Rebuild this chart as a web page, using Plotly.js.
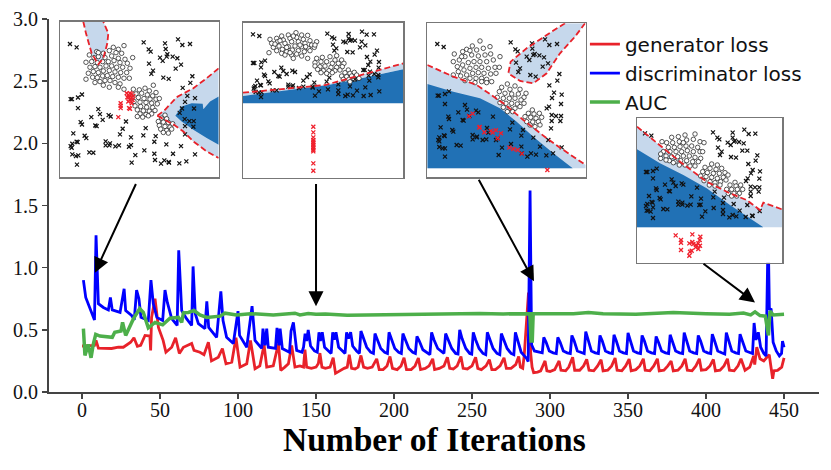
<!DOCTYPE html>
<html>
<head>
<meta charset="utf-8">
<script src="https://cdn.plot.ly/plotly-3.0.1.min.js"></script>
<style>html,body{margin:0;padding:0;background:#fff}</style>
</head>
<body>
<div id="chart" style="width:831px;height:470px"></div>
<script>
// main series, [iteration, value]
var genLoss = [[0,.37],[4,.37],[8,.375],[9,.415],[10.5,.353],[19,.35],[23.3,.36],[26.5,.36],[28.2,.375],[31.2,.4],[33.3,.436],[35.5,.367],[37.6,.375],[40.4,.455],[43.5,.45],[44,.334],[44.6,.6],[46.8,.75],[49,.52],[52,.415],[53.8,.32],[57.5,.36],[60,.436],[62.4,.31],[65,.36],[70.3,.39],[71.8,.335],[75.6,.32],[78.2,.3],[81,.4],[83,.25],[87.4,.28],[90,.35],[92.3,.227],[96,.24],[98.7,.436],[101.3,.2],[105.6,.227],[108,.415],[110.9,.187],[114,.21],[116.7,.38],[118.4,.2],[122.6,.21],[125.9,.39],[127.4,.174],[130,.2],[132.3,.227],[134.4,.375],[136.5,.2],[139.7,.21],[142,.2],[142.9,.34],[144,.2],[147,.19],[150,.2],[151.5,.23],[152.5,.313],[153.8,.2],[156,.19],[159,.2],[161,.275],[162.5,.15],[165,.17],[168,.19],[170,.2],[171.3,.3],[172.8,.19],[175,.185],[177,.2],[178.8,.294],[180.5,.2],[183,.19],[186,.2],[188.9,.267],[190.5,.18],[193,.18],[195.5,.21],[197.4,.286],[199,.19],[202,.18],[204.5,.21],[206.4,.275],[208,.18],[211,.18],[213.5,.21],[215.6,.273],[217,.18],[220,.19],[222.5,.21],[224.8,.267],[226,.18],[229,.19],[232,.21],[234.2,.28],[235.7,.19],[238,.185],[240.5,.21],[242.9,.286],[244.3,.19],[247,.185],[250,.21],[252.3,.28],[253.7,.19],[256,.18],[259,.21],[261.1,.26],[262.7,.18],[265,.18],[268,.21],[270.5,.275],[272,.19],[275,.19],[278,.22],[279.9,.286],[281,.2],[282.5,.19],[283.5,.3],[285,.6],[286.2,.8],[287.2,.6],[287.6,.31],[288.5,.2],[289.5,.155],[292,.16],[294,.17],[296.8,.25],[298,.17],[300,.165],[303,.18],[305.8,.25],[307,.175],[310,.17],[312,.2],[314.5,.28],[315.8,.175],[319,.175],[321.5,.21],[323.5,.262],[325,.175],[328,.17],[330.5,.21],[332.7,.26],[334,.17],[337,.175],[339.5,.21],[341.7,.273],[343,.175],[346,.17],[348.5,.21],[350.7,.265],[352,.17],[355,.18],[357.5,.21],[359.8,.267],[361,.175],[364,.17],[366.5,.21],[368.8,.267],[370,.17],[373,.175],[375.5,.21],[377.6,.249],[379,.17],[382,.175],[384.5,.21],[386.6,.267],[388,.175],[391,.17],[393.5,.21],[395.7,.267],[397,.175],[400,.18],[402.5,.21],[404.7,.262],[406,.17],[409,.175],[411.5,.21],[413.7,.267],[415,.175],[418,.17],[420.5,.21],[422.4,.267],[425,.175],[428,.2],[429.5,.26],[430.5,.29],[431.2,.22],[432.5,.36],[434.6,.267],[437,.25],[440.5,.3],[441.5,.2],[442.7,.107],[443.5,.17],[445.8,.174],[448.5,.2],[450,.275]];

var discLoss = [[.9,.9],[2.4,.76],[8,.58],[9,1.26],[10.5,.71],[13.7,.68],[16.9,.66],[18.2,.76],[19.4,.66],[24.4,.64],[27,.83],[28,.655],[31.8,.615],[33.5,.58],[35,.82],[36.5,.75],[37.8,.6],[42.5,.575],[44.2,.9],[45.7,.71],[48,.6],[51.7,.575],[53.2,.82],[54.7,.72],[57.5,.59],[61,.535],[62,1.14],[63.9,.655],[67,.59],[70.3,.535],[71.2,1.01],[72.6,.63],[74.6,.55],[78.8,.51],[80,.73],[81.2,.52],[86.3,.44],[89,.81],[90.4,.575],[92.7,.44],[97,.39],[100,.65],[101,.455],[105.6,.36],[109,.69],[110.9,.415],[115.2,.35],[116,.51],[117.3,.375],[118.4,.51],[119.4,.36],[124,.35],[125,.515],[126.3,.375],[127,.51],[128.4,.35],[133,.32],[134,.49],[135.5,.56],[137.6,.335],[141,.32],[142,.36],[143,.47],[144,.41],[145,.5],[146.5,.37],[149,.33],[150.8,.32],[151.9,.48],[152.8,.41],[154,.48],[155.5,.36],[158,.33],[159.7,.31],[160.7,.48],[161.7,.42],[162.8,.48],[164.5,.36],[167,.33],[168.6,.31],[169.6,.48],[170.8,.43],[172.2,.48],[173.5,.37],[176,.33],[177.8,.31],[178.8,.49],[180.3,.44],[182.5,.36],[185,.32],[186.8,.31],[187.8,.47],[189.3,.42],[191.5,.35],[194,.32],[195.8,.31],[196.8,.48],[198.3,.43],[200.5,.35],[203,.32],[204.7,.31],[205.7,.47],[207.2,.42],[209.5,.35],[212,.32],[213.7,.31],[214.7,.447],[216.2,.41],[218.5,.34],[221,.32],[223,.3],[224.1,.48],[225.6,.42],[228,.35],[230.5,.32],[232,.31],[233.1,.47],[234.6,.42],[237,.35],[239.5,.31],[241,.305],[242.1,.5],[243.6,.43],[246,.35],[248.5,.31],[249.8,.305],[250.8,.48],[252.3,.42],[254.5,.35],[257,.31],[258.8,.3],[259.8,.48],[261.3,.43],[263.5,.35],[266,.31],[267.8,.3],[268.8,.47],[270.3,.42],[272.5,.35],[275,.31],[276.8,.3],[277.8,.48],[279.3,.42],[281.5,.32],[285,.27],[286,.245],[287.2,1.62],[288.2,.38],[290,.33],[293,.32],[295,.315],[296,.44],[297.5,.4],[299.5,.33],[302,.315],[304,.31],[305,.44],[306.5,.4],[308.5,.33],[311,.315],[313,.31],[314,.455],[315.5,.41],[317.5,.33],[320,.315],[321.9,.31],[322.9,.485],[324.4,.42],[326.5,.33],[329,.315],[331,.31],[332,.455],[333.5,.41],[335.5,.33],[338,.315],[340,.31],[341,.46],[342.5,.41],[344.5,.33],[347,.315],[349,.31],[350,.475],[351.5,.42],[353.5,.33],[356,.315],[358,.31],[359,.455],[360.5,.41],[362.5,.33],[365,.315],[367,.31],[368,.447],[369.5,.4],[371.5,.33],[374,.315],[376,.31],[377,.46],[378.5,.41],[380.5,.33],[383,.315],[385,.31],[386,.478],[387.5,.42],[389.5,.33],[392,.315],[394,.31],[395,.455],[396.5,.41],[398.5,.33],[401,.315],[403,.31],[404,.465],[405.5,.41],[407.5,.33],[410,.315],[412,.305],[413,.478],[414.5,.42],[416.5,.33],[419,.315],[420.8,.31],[421.8,.465],[423.3,.41],[425.5,.33],[429.8,.31],[430.8,.555],[432,.42],[433.5,.48],[435,.36],[437,.31],[438.5,.29],[439.8,1.3],[440.6,.66],[441.7,.67],[443,.4],[445,.33],[447,.29],[448.4,.31],[449,.41],[450,.36]];

var aucScore = [[.9,.51],[1.9,.294],[4,.383],[5.8,.275],[7.3,.388],[8.8,.463],[11.5,.45],[19.4,.44],[21,.48],[25,.49],[26,.56],[28,.455],[33,.59],[37,.67],[39.3,.64],[42.5,.516],[46.8,.56],[51.7,.54],[56.4,.594],[61.8,.6],[63.9,.56],[65,.637],[68.2,.64],[71.8,.655],[75.6,.62],[80,.6],[88.5,.61],[91.7,.634],[99,.62],[108,.63],[122.6,.62],[136.5,.634],[139.7,.62],[145,.632],[150,.625],[156,.628],[170,.618],[190,.622],[210,.628],[225,.63],[240,.628],[255,.632],[270,.628],[285,.632],[287,.63],[287.8,.41],[288.6,.41],[289.2,.63],[300,.63],[315,.63],[324.6,.64],[334,.63],[355,.625],[379,.64],[400,.63],[415,.625],[424,.635],[428.6,.62],[431.4,.645],[434.6,.615],[438,.61],[440,.455],[441,.65],[443,.62],[450,.625]];

var xTicks = [0, 50, 100, 150, 200, 250, 300, 350, 400, 450];
var yTicks = [0, 0.5, 1, 1.5, 2, 2.5, 3];

// insets, read in crop coordinates of each inset
var frame1 = [31, 506, 35, 502];
var light1a = [[100,35],[108,70],[125,130],[145,163],[160,145],[172,100],[175,70],[160,35]];
var light1b = [[322,318],[345,300],[380,262],[430,235],[470,205],[506,175],[506,445],[470,425],[430,395],[400,365],[372,345],[345,330]];
var dark1 = [[376,318],[395,290],[425,280],[458,282],[460,298],[480,275],[506,260],[506,405],[470,385],[430,360],[395,335]];
var edges1 = [light1a, [[322,318],[345,300],[380,262],[430,235],[470,205],[506,175]], [[322,318],[345,330],[372,345],[400,365],[430,395],[470,425],[506,445]]];
var cross1 = [[60,102],[80,112],[281,97],[345,100],[384,88],[397,105],[420,102],[347,117],[296,118],[302,125],[352,133],[330,143],[338,153],[350,140],[368,140],[382,145],[297,161],[393,164],[377,176],[309,182],[304,192],[340,203],[356,207],[427,199],[421,219],[398,234],[412,258],[435,265],[405,276],[396,296],[432,296],[389,309],[404,328],[418,334],[431,334],[405,349],[430,351],[405,374],[62,268],[66,268],[84,263],[96,254],[84,295],[145,298],[150,313],[124,322],[158,330],[176,316],[182,320],[228,335],[92,337],[96,344],[136,347],[140,349],[218,357],[287,355],[70,371],[104,378],[109,385],[210,374],[243,383],[280,377],[317,379],[313,396],[80,396],[83,397],[67,402],[62,409],[65,414],[167,395],[180,401],[167,407],[178,407],[196,410],[207,407],[237,411],[243,406],[349,404],[393,409],[283,422],[313,432],[369,432],[435,434],[256,436],[67,434],[85,437],[78,439],[118,428],[130,429],[81,465],[245,459],[315,451],[343,452],[333,462],[357,459],[388,461],[409,455],[356,457]];
var red1 = [[230,250],[235,255],[240,250],[245,252],[232,262],[238,262],[245,262],[240,270],[248,270],[235,275],[245,280],[212,280],[212,288],[212,295],[237,295],[240,297],[205,322],[250,258]];
var ring1 = [[222,107],[205,118],[190,112],[215,130],[198,128],[178,122],[160,130],[140,125],[118,135],[145,140],[165,143],[185,138],[205,145],[225,148],[248,143],[108,157],[125,155],[142,158],[158,155],[175,155],[192,152],[210,158],[232,160],[120,172],[135,170],[150,172],[168,168],[185,168],[200,172],[218,172],[240,175],[115,190],[130,185],[145,188],[160,183],[178,182],[195,186],[212,188],[230,188],[108,208],[128,202],[142,203],[158,198],[172,197],[188,200],[205,202],[222,205],[238,205],[135,218],[150,215],[165,212],[180,212],[195,218],[210,222],[160,226],[178,232],[205,232],[222,238],[145,128],[132,143],
  [310,226],[285,235],[268,240],[250,238],[298,243],[318,248],[258,252],[275,250],[292,255],[308,258],[245,262],[265,263],[282,266],[300,268],[318,268],[328,266],[252,275],[270,277],[288,278],[305,280],[322,282],[255,288],[272,290],[290,292],[308,293],[262,300],[280,303],[298,304],[315,302],[270,312],[288,314],[305,312],[262,320],[278,322],[295,318],
  [345,316],[335,325],[350,327],[325,335],[340,337],[355,338],[368,342],[328,347],[345,350],[360,352],[332,358],[350,362],[365,358],[340,368],[355,370]];

var frame2 = [24, 505, 38, 503];
var light2 = [[24,248],[130,238],[270,225],[350,203],[430,180],[505,160],[505,178],[400,200],[280,225],[130,245],[24,258]];
var dark2 = [[24,258],[130,245],[280,225],[400,200],[505,178],[505,280],[24,280]];
var edges2 = [[[24,248],[130,238],[270,225],[350,203],[430,180],[505,160]]];
var cross2 = [[54,73],[73,78],[277,71],[341,72],[381,65],[395,74],[417,73],[341,85],[291,82],[298,86],[345,92],[325,95],[332,97],[350,90],[360,92],[380,95],[294,104],[391,106],[375,112],[304,115],[298,122],[337,126],[353,127],[426,122],[419,134],[396,141],[406,155],[432,156],[400,165],[389,180],[431,173],[385,180],[405,185],[418,192],[430,195],[401,197],[430,202],[403,212],[54,159],[58,159],[79,157],[90,152],[78,172],[139,173],[145,183],[118,186],[155,192],[172,182],[180,186],[224,193],[87,194],[90,198],[130,198],[134,200],[216,201],[283,203],[66,212],[100,214],[104,220],[205,212],[238,218],[275,215],[310,223],[360,208],[76,225],[78,226],[61,228],[58,232],[56,236],[160,224],[174,226],[160,230],[172,230],[192,234],[205,230],[233,233],[233,230],[345,229],[391,232],[279,238],[310,241],[366,242],[433,244],[252,244],[62,246],[80,247],[72,248],[113,241],[125,241],[78,261],[240,257],[310,252],[338,254],[331,258],[354,256],[386,258],[407,255]];
var red2 = [[235,350],[235,367],[235,382],[235,390],[235,395],[235,400],[235,405],[235,410],[235,415],[235,420],[235,424],[235,460],[235,482]];
var ring2 = [[183,68],[160,75],[140,78],[105,88],[125,85],[200,75],[218,76],[110,100],[128,95],[145,90],[165,85],[185,82],[205,88],[225,92],[245,95],[102,128],[115,112],[132,108],[150,100],[170,95],[190,95],[210,100],[230,105],[125,122],[142,118],[160,110],[180,108],[200,110],[220,115],[238,112],[140,130],[155,125],[172,120],[190,122],[208,125],[225,122],[150,135],[170,135],[185,132],[200,138],[218,145],[175,145],[120,102],[155,112],[195,105],[135,92],[175,78],[212,110],[240,105],[165,128],
  [305,137],[285,140],[262,142],[245,145],[300,150],[320,150],[240,158],[258,155],[275,155],[292,160],[310,160],[327,160],[240,168],[255,170],[270,168],[288,172],[305,172],[322,170],[248,178],[265,182],[282,182],[300,182],[315,180],[258,188],[275,190],[292,188],
  [340,180],[330,188],[345,190],[358,187],[320,198],[335,200],[350,198],[365,195],[372,205],[325,208],[342,208],[358,208],[345,215]];

var frame3 = [22, 497, 40, 502];
var light3a = [[22,165],[100,200],[170,225],[250,280],[310,330],[380,385],[430,420],[497,465],[497,475],[22,475]];
var light3b = [[272,155],[320,115],[395,65],[435,40],[495,40],[465,80],[420,130],[380,190],[340,220],[300,213],[265,190]];
var dark3 = [[22,222],[100,245],[180,265],[240,295],[290,335],[340,380],[400,430],[458,475],[22,475]];
var edges3 = [[[22,165],[100,200],[170,225],[250,280],[310,330],[380,385],[430,420],[497,465]], [[435,40],[395,65],[320,115],[272,155],[265,190],[300,213],[340,220],[380,190],[420,130],[465,80],[495,40]]];
var cross3 = [[52,102],[71,111],[272,97],[336,100],[375,88],[388,105],[411,102],[337,116],[286,118],[293,124],[344,132],[320,140],[328,150],[340,135],[358,136],[372,142],[288,158],[384,160],[368,170],[300,175],[295,186],[331,195],[347,200],[418,192],[412,212],[388,226],[402,248],[425,254],[396,264],[380,295],[423,282],[387,290],[395,315],[408,318],[423,318],[395,333],[421,333],[393,355],[53,257],[57,257],[75,252],[87,244],[75,282],[135,285],[141,299],[115,307],[148,318],[168,302],[175,307],[219,320],[85,320],[87,327],[128,330],[131,332],[201,354],[277,338],[62,352],[97,360],[100,365],[205,368],[270,358],[309,360],[304,377],[340,383],[72,376],[74,378],[58,382],[55,390],[58,394],[158,375],[171,380],[158,388],[170,382],[188,390],[199,388],[228,390],[233,385],[385,390],[360,410],[273,402],[304,410],[425,412],[246,413],[58,411],[75,415],[68,415],[110,405],[122,407],[75,440],[236,435],[305,430],[333,430],[322,440],[348,434],[379,436],[399,430]];
var red3 = [[147,319],[158,311],[179,351],[178,353],[193,367],[213,363],[218,368],[228,361],[243,370],[233,385],[268,413],[280,417],[293,420],[306,431],[382,480]];
var ring3 = [[180,93],[157,108],[140,118],[128,125],[103,132],[170,120],[190,115],[210,110],[212,132],[240,140],[100,155],[118,150],[135,140],[155,135],[175,138],[195,135],[220,150],[112,170],[128,165],[145,158],[162,155],[180,155],[200,155],[225,172],[115,185],[132,180],[150,175],[168,172],[185,172],[205,175],[238,172],[122,198],[140,195],[158,190],[175,188],[192,190],[212,192],[228,190],[135,212],[150,205],[168,205],[185,205],[200,208],[215,215],[165,218],[185,215],[200,218],[100,195],[125,140],[150,122],
  [262,222],[285,228],[245,232],[270,238],[300,238],[318,250],[238,245],[255,250],[275,252],[295,252],[312,262],[232,262],[250,265],[268,265],[285,265],[303,270],[240,278],[258,280],[275,280],[292,282],[312,280],[250,292],[268,295],[285,295],[300,290],[262,305],[278,305],
  [337,300],[325,310],[342,312],[358,310],[315,320],[332,322],[348,325],[365,322],[320,335],[338,336],[355,335],[330,345],[345,350],[360,345]];

var frame4 = [21, 456, 24, 458];
var light4 = [[21,50],[90,105],[150,155],[230,215],[300,250],[350,270],[390,300],[400,278],[456,298],[456,352],[21,352]];
var dark4 = [[21,118],[90,160],[160,195],[230,235],[300,285],[360,325],[400,352],[21,352]];
var edges4 = [[[21,50],[90,105],[150,155],[230,215],[300,250],[350,270],[390,300],[400,278],[456,298]]];
var cross4 = [[45,70],[64,77],[249,67],[308,68],[343,59],[356,72],[376,71],[308,83],[262,83],[268,88],[315,92],[293,98],[302,105],[312,95],[327,96],[341,100],[264,113],[352,122],[337,122],[275,125],[270,135],[303,141],[318,143],[382,136],[377,152],[355,162],[368,180],[390,184],[363,190],[348,213],[388,206],[353,205],[362,230],[375,232],[388,232],[362,245],[386,245],[362,258],[48,186],[52,186],[69,183],[80,176],[69,205],[125,208],[130,218],[105,224],[137,228],[155,220],[160,224],[201,233],[78,235],[80,240],[117,243],[120,244],[184,259],[254,245],[57,258],[89,264],[92,268],[213,266],[250,262],[282,263],[279,279],[311,282],[65,276],[68,278],[52,282],[48,288],[50,302],[145,275],[157,278],[145,284],[157,284],[172,287],[182,284],[208,285],[212,284],[352,285],[368,318],[251,294],[279,300],[329,302],[389,303],[226,304],[54,302],[69,292],[62,305],[100,297],[112,298],[69,324],[216,320],[279,312],[308,315],[298,322],[319,319],[347,321],[366,317]];
var red4 = [[137,376],[187,373],[211,380],[209,390],[153,390],[153,398],[178,400],[187,396],[190,402],[198,405],[205,400],[210,407],[153,420],[185,422],[178,437],[205,417],[180,425],[197,412]];
var ring4 = [[195,72],[165,75],[145,80],[125,82],[170,90],[190,88],[210,95],[222,98],[110,98],[128,98],[148,95],[96,95],[115,112],[133,112],[150,110],[168,108],[185,108],[203,112],[100,125],[120,125],[138,125],[155,125],[172,122],[190,125],[210,125],[218,125],[92,145],[108,138],[125,140],[143,140],[160,138],[178,138],[195,142],[212,145],[118,152],[135,155],[152,152],[170,152],[188,155],[205,155],[130,158],[148,165],[165,165],[180,168],[195,168],[92,132],[108,150],[160,98],
  [245,162],[262,165],[225,172],[240,175],[258,178],[275,175],[218,185],[232,188],[250,190],[268,190],[285,188],[212,198],[228,200],[245,202],[262,205],[280,202],[294,195],[222,212],[240,215],[255,218],[272,215],[288,210],[238,225],[255,228],[270,225],
  [315,217],[300,225],[318,228],[332,225],[290,238],[305,238],[322,238],[338,238],[295,250],[312,250],[328,250],[305,258],[320,258]];

var LIGHT = '#c6d8ec', DARK = '#2171b5', RED = '#e8222a', SERIF = 'Liberation Serif';
var plotL = 49, plotR = 819, plotT = 19, plotB = 392;

function xs(pts) { return pts.map(function (p) { return p[0]; }); }
function ys(pts) { return pts.map(function (p) { return p[1]; }); }

function series(pts, name, color, width) {
  return { x: xs(pts), y: ys(pts), name: name, type: 'scatter', mode: 'lines', hoverinfo: 'skip',
    line: { color: color, width: width } };
}

var data = [
  series(genLoss, 'generator loss', RED, 2.8),
  series(discLoss, 'discriminator loss', '#0000ff', 2.8),
  series(aucScore, 'AUC', '#4daf4a', 3.5)
];

var layout = {
  width: 831, height: 470,
  paper_bgcolor: '#fff', plot_bgcolor: '#fff',
  margin: { l: plotL, r: 831 - plotR, t: plotT, b: 470 - plotB },
  font: { family: SERIF, color: '#111', size: 20 },
  showlegend: true,
  legend: { x: 0.696, y: 0.985, xanchor: 'left', yanchor: 'top', bgcolor: 'rgba(0,0,0,0)',
    font: { family: 'DejaVu Sans', size: 20, color: '#111' }, itemwidth: 30 },
  xaxis: { range: [-21.15, 472.4], tickvals: xTicks, ticks: 'outside', ticklen: 5, tickwidth: 1.5, tickcolor: '#444',
    ticklabelstandoff: -6, showgrid: false, zeroline: false, showline: true, linewidth: 2, linecolor: '#444' },
  yaxis: { range: [0, 3], tickvals: yTicks, tickformat: '.1f', ticks: 'outside', ticklen: 5, tickwidth: 1.5, tickcolor: '#444',
    showgrid: false, zeroline: false, showline: true, linewidth: 2, linecolor: '#444' },
  annotations: [
    arrow(8.3, 0.96, 35, 1.685),
    arrow(150, 0.69, 150, 1.685),
    arrow(289.7, 0.89, 253.8, 1.72),
    arrow(431.4, 0.72, 397.4, 1.04),
    // axis title sits closer to the ticks than title.standoff allows
    { xref: 'paper', yref: 'paper', x: 0.5, y: -0.0755, xanchor: 'center', yanchor: 'top', showarrow: false, borderpad: 0,
      text: '<b>Number of Iterations</b>', font: { family: SERIF, size: 33.5, color: '#000' } }
  ]
};

function arrow(x, y, ax, ay) {
  return { x: x, y: y, ax: ax, ay: ay, xref: 'x', yref: 'y', axref: 'x', ayref: 'y', text: '',
    showarrow: true, arrowhead: 2, arrowsize: 1.5, arrowwidth: 2, arrowcolor: '#000', standoff: 0 };
}

function addInset(n, box, frame, lights, dark, edges, ring, cross, red) {
  var xa = 'x' + n, ya = 'y' + n;
  layout['xaxis' + n] = { domain: [(box[0] - plotL) / (plotR - plotL), (box[1] - plotL) / (plotR - plotL)], anchor: ya,
    range: [frame[0], frame[1]], showticklabels: false, ticks: '', showgrid: false, zeroline: false,
    showline: true, mirror: true, linecolor: '#777', linewidth: 1.5 };
  layout['yaxis' + n] = { domain: [(plotB - box[3]) / (plotB - plotT), (plotB - box[2]) / (plotB - plotT)], anchor: xa,
    range: [frame[3], frame[2]], showticklabels: false, ticks: '', showgrid: false, zeroline: false,
    showline: true, mirror: true, linecolor: '#777', linewidth: 1.5 };

  function area(pts, color) {
    data.push({ x: xs(pts), y: ys(pts), xaxis: xa, yaxis: ya, type: 'scatter', mode: 'lines', fill: 'toself',
      fillcolor: color, line: { width: 0 }, showlegend: false, hoverinfo: 'skip' });
  }
  function dots(pts, marker) {
    data.push({ x: xs(pts), y: ys(pts), xaxis: xa, yaxis: ya, type: 'scatter', mode: 'markers', marker: marker,
      showlegend: false, hoverinfo: 'skip', cliponaxis: true });
  }
  // white backing so the inset hides the curves behind it
  area([[frame[0], frame[2]], [frame[1], frame[2]], [frame[1], frame[3]], [frame[0], frame[3]]], '#fff');
  lights.forEach(function (pts) { area(pts, LIGHT); });
  area(dark, DARK);
  dots(ring, { symbol: 'circle', size: 4.5, color: '#fff', line: { color: '#111', width: 0.7 } });
  dots(cross, { symbol: 'x-thin', size: 4, line: { color: '#111', width: 1.2 } });
  dots(red, { symbol: 'x-thin', size: 4, line: { color: '#f0202c', width: 1.3 } });
  edges.forEach(function (pts) {
    data.push({ x: xs(pts), y: ys(pts), xaxis: xa, yaxis: ya, type: 'scatter', mode: 'lines', showlegend: false,
      hoverinfo: 'skip', line: { color: RED, width: 1.8, dash: '6px,3px' } });
  });
}

addInset(2, [60.3, 218.7, 21.7, 177], frame1, [light1a, light1b], dark1, edges1, ring1, cross1, red1);
addInset(3, [243, 403.3, 22.7, 177.7], frame2, [light2], dark2, edges2, ring2, cross2, red2);
addInset(4, [427.3, 585.7, 23.3, 177.3], frame3, [light3a, light3b], dark3, edges3, ring3, cross3, red3);
addInset(5, [637, 782, 118, 262.7], frame4, [light4], dark4, edges4, ring4, cross4, red4);

Plotly.newPlot('chart', data, layout, { displayModeBar: false, staticPlot: true });
</script>
</body>
</html>
